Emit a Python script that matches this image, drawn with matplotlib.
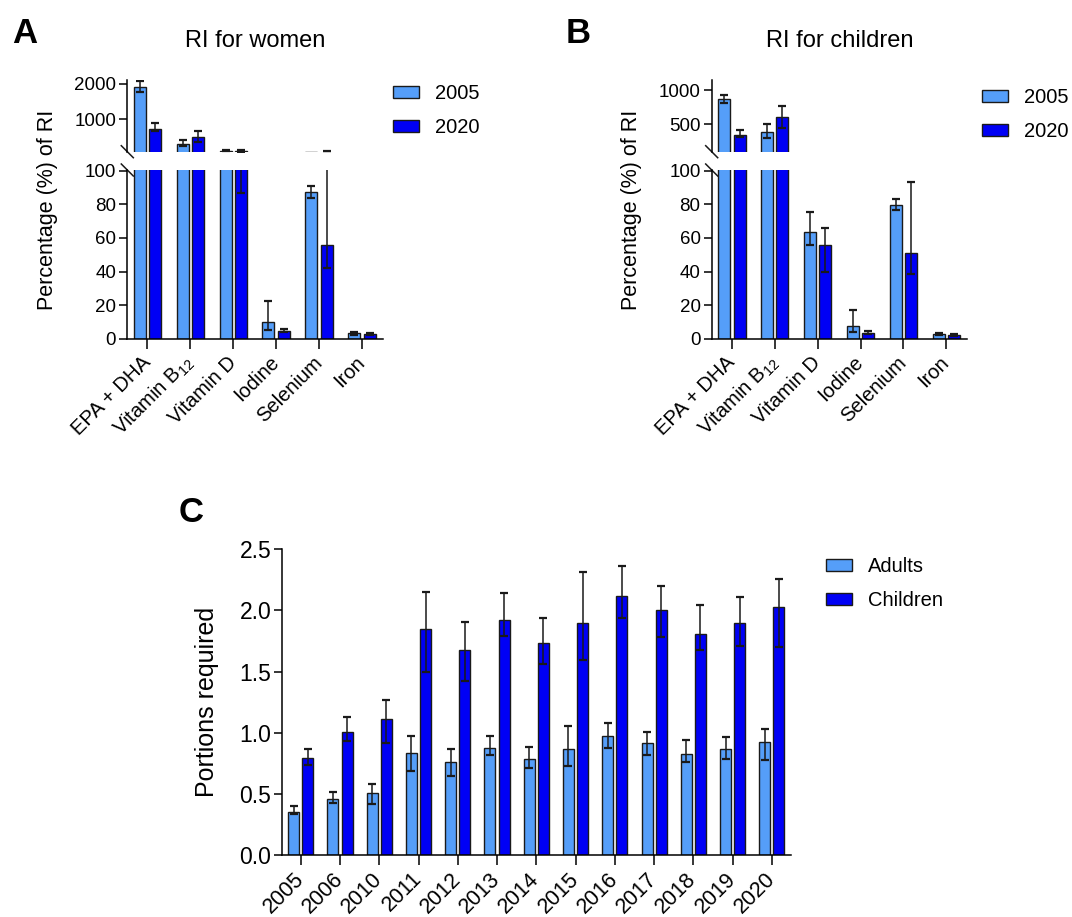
import matplotlib

matplotlib.use("Agg")
import matplotlib.pyplot as plt
import numpy as np

plt.rcParams["font.family"] = ["Liberation Sans", "DejaVu Sans"]
plt.rcParams["mathtext.fontset"] = "custom"
plt.rcParams["mathtext.rm"] = "Liberation Sans"
plt.rcParams["axes.linewidth"] = 1.1

W, H = 1072, 917
LIGHT = "#559ef9"
DARK = "#0000f5"

NUTRIENTS = ["EPA + DHA", "Vitamin B$_{\\mathregular{12}}$", "Vitamin D", "Iodine", "Selenium", "Iron"]

# panel A, RI for women (% of RI, mean with lower / upper error bounds)
women_2005 = [1905, 320, 125, 10.1, 87.3, 3.2]
women_2005_lo = [1765, 252, 108, 5.1, 83.7, 2.4]
women_2005_hi = [2073, 430, 150, 22.7, 91.2, 4.2]
women_2020 = [740, 505, 120, 4.6, 55.7, 2.6]
women_2020_lo = [672, 384, 87, 3.8, 42.0, 2.2]
women_2020_hi = [897, 672, 155, 5.8, 108, 3.2]

# panel B, RI for children
children_2005 = [870, 393, 63.7, 7.8, 79.5, 2.6]
children_2005_lo = [806, 305, 56.0, 4.2, 76.9, 2.0]
children_2005_hi = [937, 509, 75.3, 17.1, 83.3, 3.6]
children_2020 = [344, 602, 55.6, 3.6, 50.8, 2.3]
children_2020_lo = [320, 451, 39.8, 2.8, 38.5, 1.9]
children_2020_hi = [417, 762, 66.0, 4.5, 93.6, 2.8]

# panel C, portions required
YEARS = ["2005", "2006", "2010", "2011", "2012", "2013", "2014",
         "2015", "2016", "2017", "2018", "2019", "2020"]
adults = [0.355, 0.455, 0.504, 0.834, 0.763, 0.872, 0.782, 0.864, 0.973, 0.913, 0.823, 0.864, 0.924]
adults_lo = [0.335, 0.423, 0.414, 0.689, 0.646, 0.818, 0.714, 0.728, 0.872, 0.818, 0.763, 0.788, 0.779]
adults_hi = [0.400, 0.518, 0.578, 0.973, 0.867, 0.973, 0.886, 1.058, 1.077, 1.008, 0.940, 0.967, 1.028]
kids = [0.796, 1.003, 1.112, 1.845, 1.674, 1.921, 1.731, 1.899, 2.120, 2.001, 1.810, 1.899, 2.030]
kids_lo = [0.736, 0.935, 0.918, 1.496, 1.425, 1.793, 1.562, 1.594, 1.935, 1.785, 1.676, 1.711, 1.703]
kids_hi = [0.867, 1.128, 1.267, 2.148, 1.908, 2.140, 1.935, 2.317, 2.366, 2.202, 2.044, 2.112, 2.254]

OFFSET = 0.18
WIDTH = 0.28
EDGE = "#1a1a1a"


def rect(left, top, right, bottom):
    return [left / W, 1 - bottom / H, (right - left) / W, (bottom - top) / H]


def style(ax, bottom=True):
    for side in ("top", "right"):
        ax.spines[side].set_visible(False)
    ax.tick_params(axis="y", direction="out", length=6, width=1.1, labelsize=13.5, pad=2)
    ax.tick_params(axis="x", direction="out", length=7, width=1.1)
    if not bottom:
        ax.spines["bottom"].set_visible(False)
        ax.tick_params(axis="x", bottom=False, labelbottom=False)


def bars(ax, x, series, ymin, ymax):
    handles = []
    for dx, (mean, lo, hi, color) in zip((-OFFSET, OFFSET), series):
        mean, lo, hi = np.asarray(mean), np.asarray(lo), np.asarray(hi)
        handles.append(ax.bar(x + dx, mean, WIDTH, color=color, edgecolor=EDGE,
                              linewidth=1.0, zorder=2))
        # only draw error bars that reach into this axes, so caps don't poke over the edge
        keep = (hi >= ymin) & (lo <= ymax)
        ax.errorbar((x + dx)[keep], mean[keep],
                    yerr=[(mean - lo)[keep], (hi - mean)[keep]], fmt="none", ecolor=EDGE,
                    elinewidth=1.1, capsize=2.6, capthick=1.6, zorder=3)
    return handles


def break_marks(top, bottom):
    d = 6
    for ax, y in ((top, 0), (bottom, 1)):
        pos = ax.get_position()
        dx = d / (pos.width * W)
        dy = d / (pos.height * H)
        ax.plot((-dx, dx), (y + dy, y - dy), transform=ax.transAxes, color=EDGE,
                lw=1.1, clip_on=False)


def broken_panel(fig, left, right, series, top_lim, top_ticks, title, title_x, letter, letter_x):
    x = np.arange(len(NUTRIENTS))
    ax_top = fig.add_axes(rect(left, 80, right, 151.7))
    ax_bot = fig.add_axes(rect(left, 170, right, 338.7))
    handles = bars(ax_top, x, series, *top_lim)
    bars(ax_bot, x, series, 0, 100.5)
    for ax in (ax_top, ax_bot):
        ax.set_xlim(-0.47, len(NUTRIENTS) - 0.51)
    ax_top.set_ylim(*top_lim)
    ax_top.set_yticks(top_ticks)
    ax_bot.set_ylim(0, 100.5)
    ax_bot.set_yticks([0, 20, 40, 60, 80, 100])
    style(ax_top, bottom=False)
    style(ax_bot)
    ax_bot.set_xticks(x)
    ax_bot.set_xticklabels(NUTRIENTS, rotation=45, ha="right", va="center",
                           rotation_mode="anchor", fontsize=14.5)
    ax_bot.tick_params(axis="x", pad=8)
    break_marks(ax_top, ax_bot)

    fig.text(title_x / W, 1 - 46.7 / H, title, ha="center", va="baseline", fontsize=17)
    fig.text(letter_x / W, 1 - 43 / H, letter, ha="left", va="baseline", fontsize=25, weight="bold")
    fig.text((left - 80) / W, 1 - 210 / H, "Percentage (%) of RI", rotation=90,
             ha="center", va="center", fontsize=15.5)
    return ax_top, handles


fig = plt.figure(figsize=(W / 100, H / 100), dpi=100)

ax_a, handles_a = broken_panel(
    fig, 127.3, 383,
    [(women_2005, women_2005_lo, women_2005_hi, LIGHT),
     (women_2020, women_2020_lo, women_2020_hi, DARK)],
    (100, 2100), [1000, 2000], "RI for women", 254.7, "A", 12)
ax_b, handles_b = broken_panel(
    fig, 711.7, 967.3,
    [(children_2005, children_2005_lo, children_2005_hi, LIGHT),
     (children_2020, children_2020_lo, children_2020_hi, DARK)],
    (100, 1150), [500, 1000], "RI for children", 839.7, "B", 566)

legend_kw = dict(frameon=False, fontsize=14.5, handlelength=1.3, handleheight=0.6,
                 handletextpad=0.8, labelspacing=0.75, borderpad=0, borderaxespad=0,
                 loc="upper left", bbox_transform=fig.transFigure)
ax_a.legend(handles_a, ["2005", "2020"], bbox_to_anchor=(393 / W, 1 - 84 / H), **legend_kw)
ax_b.legend(handles_b, ["2005", "2020"], bbox_to_anchor=(982 / W, 1 - 88 / H), **legend_kw)

# panel C
ax_c = fig.add_axes(rect(282.3, 549.3, 790.7, 855))
xc = np.arange(len(YEARS))
handles_c = bars(ax_c, xc, [(adults, adults_lo, adults_hi, LIGHT), (kids, kids_lo, kids_hi, DARK)],
                 0, 2.5)
ax_c.set_xlim(-0.47, len(YEARS) - 0.52)
ax_c.set_ylim(0, 2.5)
ax_c.set_yticks([0, 0.5, 1.0, 1.5, 2.0, 2.5])
ax_c.set_yticklabels([f"{v:.1f}" for v in [0, 0.5, 1.0, 1.5, 2.0, 2.5]])
style(ax_c)
ax_c.tick_params(axis="y", labelsize=16.5)
ax_c.set_xticks(xc)
ax_c.set_xticklabels(YEARS, rotation=45, ha="right", va="center",
                     rotation_mode="anchor", fontsize=15.5)
ax_c.tick_params(axis="x", pad=8)
ax_c.legend(handles_c, ["Adults", "Children"], bbox_to_anchor=(826 / W, 1 - 557 / H), **legend_kw)
fig.text(207 / W, 1 - 702 / H, "Portions required", rotation=90, ha="center", va="center",
         fontsize=18)
fig.text(179 / W, 1 - 522 / H, "C", ha="left", va="baseline", fontsize=25, weight="bold")

fig.savefig("out.png", dpi=100)
